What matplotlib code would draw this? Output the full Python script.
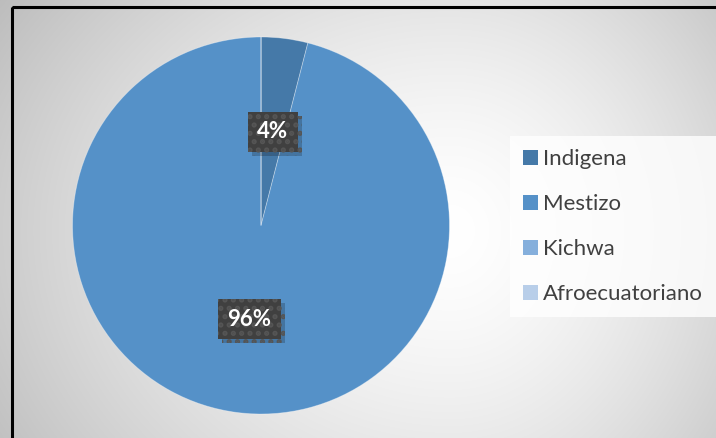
import numpy as np
import matplotlib
matplotlib.use("Agg")
import matplotlib.pyplot as plt
from matplotlib.patches import Rectangle, Patch
import matplotlib.patheffects as pe

# ---- data ----
categories = ["Indigena", "Mestizo", "Kichwa", "Afroecuatoriano"]
values = [4, 96, 0, 0]
colors = ["#4579a8", "#5591c8", "#85afdc", "#b8cee9"]

W, H, DPI = 716, 438, 100
plt.rcParams["font.family"] = ["Lato", "DejaVu Sans"]
plt.rcParams["hatch.linewidth"] = 2.5
fig = plt.figure(figsize=(W / DPI, H / DPI), dpi=DPI)

# ---- background gradient ----
bg = fig.add_axes([0, 0, 1, 1], zorder=0)
yy, xx = np.mgrid[0:H, 0:W]
cx, cy = 450.0, 230.0
rx = np.where(xx < cx, 540.0, 400.0)
ry = np.where(yy < cy, 420.0, 450.0)
t = np.sqrt(((xx - cx) / rx) ** 2 + ((yy - cy) / ry) ** 2)
t = np.clip(t, 0, 1.05)
g = 1 - 0.26 * t ** 1.5
img = np.dstack([g, g, g])
bg.imshow(img, extent=[0, W, H, 0], aspect="auto", interpolation="bilinear")
bg.set_xlim(0, W)
bg.set_ylim(H, 0)
bg.axis("off")
# border (left/top visible)
bg.add_patch(Rectangle((12, 7), 760, 480, fill=False, edgecolor="black", linewidth=2.2))

# ---- pie ----
pcx, pcy, r = 261.0, 225.5, 188.5
ax = fig.add_axes([(pcx - r) / W, (H - pcy - r) / H, 2 * r / W, 2 * r / H], zorder=2)


def fmt(p):
    return f"{p:.0f}%" if p > 0.5 else ""


wedges, texts, autotexts = ax.pie(
    values, colors=colors, startangle=90, counterclock=False, radius=1,
    autopct=fmt, pctdistance=0.5,
    wedgeprops=dict(edgecolor=(1, 1, 1, 0.35), linewidth=0.6),
    textprops=dict(color="white", fontsize=16, fontweight="bold"),
)
ax.set_xlim(-1, 1)
ax.set_ylim(-1, 1)
ax.set_aspect("equal")
ax.axis("off")

for at in autotexts:
    if not at.get_text():
        continue
    at.set_bbox(dict(boxstyle="square,pad=0.42", facecolor="#404040",
                     edgecolor="#555555", linewidth=0, hatch=".."))
    at.get_bbox_patch().set_path_effects(
        [pe.SimplePatchShadow(offset=(3, -3), shadow_rgbFace="black", alpha=0.2),
         pe.Normal()])
    at.set_zorder(4)

# ---- legend ----
handles = [Patch(facecolor=c, edgecolor="none") for c in colors]
leg = fig.legend(
    handles, categories, loc="upper left",
    bbox_to_anchor=(510 / W, 1 - 136 / H),
    frameon=True, fancybox=False, fontsize=16,
    handlelength=0.64, handleheight=0.64, handletextpad=0.25,
    labelspacing=1.12, borderpad=0.6, borderaxespad=0,
)
leg.get_frame().set_facecolor((1, 1, 1, 0.55))
leg.get_frame().set_edgecolor("none")
for txt in leg.get_texts():
    txt.set_color("#404040")

fig.savefig("out.png", dpi=DPI)
